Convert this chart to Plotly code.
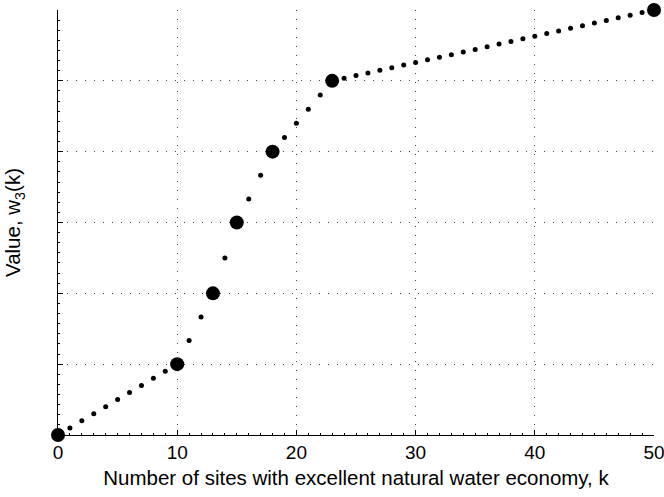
import plotly.graph_objects as go

# all integer k values and the corresponding w_3(k)
k_all = list(range(51))
w_all = [0.0, 0.1, 0.2, 0.3, 0.4, 0.5, 0.6, 0.7, 0.8, 0.9, 1.0,
         1.333, 1.667, 2.0,
         2.5, 3.0,
         3.333, 3.667, 4.0,
         4.2, 4.4, 4.6, 4.8, 5.0,
         5.037, 5.074, 5.111, 5.148, 5.185, 5.222, 5.259, 5.296, 5.333,
         5.370, 5.407, 5.444, 5.481, 5.519, 5.556, 5.593, 5.630, 5.667,
         5.704, 5.741, 5.778, 5.815, 5.852, 5.889, 5.926, 5.963, 6.0]

# breakpoints (large markers)
k_key = [0, 10, 13, 15, 18, 23, 50]
w_key = [0, 1, 2, 3, 4, 5, 6]

x_ticks = [0, 10, 20, 30, 40, 50]
x_title = "Number of sites with excellent natural water economy, k"
y_title = "Value, w<sub>3</sub>(k)"

fig = go.Figure()
fig.add_trace(go.Scatter(x=k_all, y=w_all, mode="markers",
                         marker=dict(size=5, color="black"),
                         cliponaxis=False, hoverinfo="skip"))
fig.add_trace(go.Scatter(x=k_key, y=w_key, mode="markers",
                         marker=dict(size=14, color="black"),
                         cliponaxis=False))

font = "Liberation Sans, Arial, Helvetica, sans-serif"
fig.update_layout(
    width=664, height=497,
    margin=dict(l=58, r=10, t=10, b=62),
    paper_bgcolor="white", plot_bgcolor="white",
    showlegend=False,
    font=dict(family=font, color="black"),
    xaxis=dict(range=[0, 50], tickvals=x_ticks, ticktext=[str(v) for v in x_ticks],
               automargin=False, ticklabeloverflow="allow",
               showline=True, linecolor="black", linewidth=1,
               ticks="inside", ticklen=5, tickcolor="black",
               tickfont=dict(size=19),
               showgrid=True, gridcolor="#444", gridwidth=1, griddash="1px,8px",
               zeroline=False,
               minor=dict(dtick=1, ticks="inside", ticklen=2, tickcolor="black", showgrid=False),
               title=dict(text=x_title, font=dict(size=20.5), standoff=8)),
    yaxis=dict(range=[0, 6], dtick=1, showticklabels=False,
               automargin=False,
               showline=True, linecolor="black", linewidth=1,
               ticks="inside", ticklen=5, tickcolor="black",
               showgrid=True, gridcolor="#444", gridwidth=1, griddash="1px,8px",
               zeroline=False,
               minor=dict(dtick=1/7, ticks="inside", ticklen=2, tickcolor="black", showgrid=False),
               title=dict(text=y_title, font=dict(size=20.5), standoff=30)),
)

fig.write_html("out.html")
